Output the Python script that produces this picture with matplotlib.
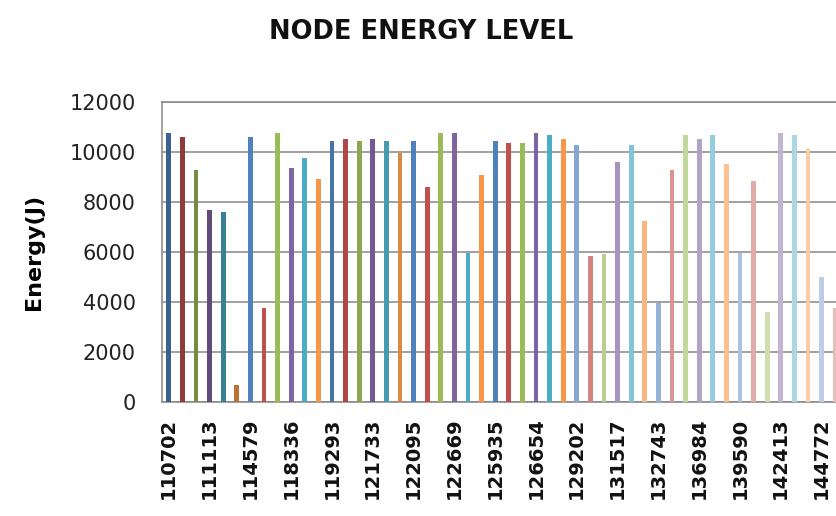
import numpy as np
import matplotlib.pyplot as plt
import matplotlib.colors as mcolors


# Node energies (J), one bar per node, in node order
energy = [10790, 10630, 9290, 7690, 7610, 680,
          10630, 3760, 10790, 9360, 9770, 8950,
          10450, 10530, 10450, 10530, 10450, 9990,
          10450, 8600, 10790, 10790, 5960, 9090,
          10450, 10360, 10360, 10790, 10690, 10530,
          10280, 5870, 5920, 9630, 10290, 7250,
          3960, 9290, 10690, 10530, 10690, 9530,
          5990, 8870, 3630, 10790, 10690, 10120,
          5030, 3760]

# Only every third node gets its id printed on the axis
node_labels = ['110702', '111113', '114579', '118336', '119293', '121733',
               '122095', '122669', '125935', '126654', '129202', '131517',
               '132743', '136984', '139590', '142413', '144772']

y_ticks = [0, 2000, 4000, 6000, 8000, 10000, 12000]

# Office-style accent colours, shaded per group of six series
accents = ['#4F81BD', '#C0504D', '#9BBB59', '#8064A2', '#4BACC6', '#F79646']
group_tint = [-0.25, 0.0, -0.1, 0.0, 0.0, 0.3, 0.4, 0.52, 0.62]


def shade(hex_color, t):
    rgb = np.array(mcolors.to_rgb(hex_color))
    if t < 0:
        rgb = rgb * (1 + t)
    else:
        rgb = rgb + (1 - rgb) * t
    return rgb


n = len(energy)
x = np.arange(n)
colors = [shade(accents[i % 6], group_tint[i // 6]) for i in range(n)]

fig = plt.figure(figsize=(8.36, 5.16), dpi=100)
ax = fig.add_axes([162/836, 1 - 402.3/516, n*13.6/836, 300/516])

ax.bar(x, energy, width=0.35, color=colors, zorder=3)

ax.set_xlim(-0.5, n - 0.5)
ax.set_ylim(0, 12000)
ax.set_yticks(y_ticks)
ax.set_yticklabels([str(v) for v in y_ticks], fontsize=15, color='#222222')
ax.set_xticks(x[::3])
ax.set_xticklabels(node_labels, rotation=90, fontsize=14, fontweight='bold',
                   color='#111111', va='top')
ax.tick_params(axis='y', length=0, pad=19)
ax.tick_params(axis='x', length=0, pad=11)

ax.grid(axis='y', color='#868686', lw=1.1, zorder=0)
for s in ax.spines.values():
    s.set_color('#868686')
    s.set_linewidth(1.1)

ax.set_ylabel('Energy(J)', fontsize=16, fontweight='bold', labelpad=18)
fig.text(421/836, 1 - 32/516, 'NODE ENERGY LEVEL', fontsize=18.5,
         fontweight='bold', ha='center', va='center', color='#111111')

plt.savefig('out.png', dpi=100)
